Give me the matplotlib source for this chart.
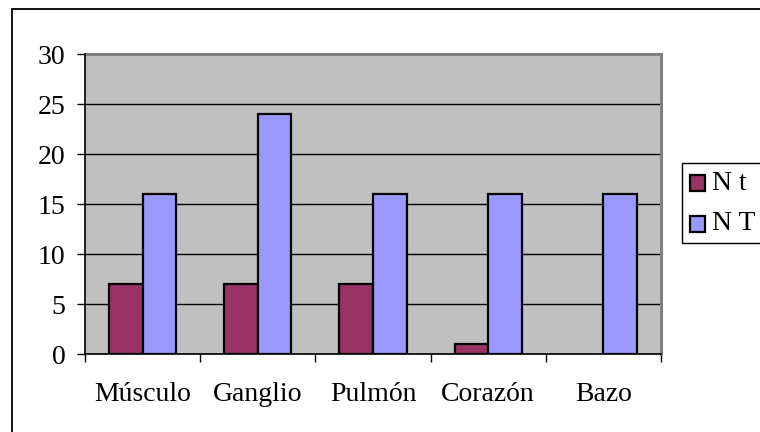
import matplotlib
matplotlib.use("Agg")
import matplotlib.pyplot as plt
from matplotlib.patches import Rectangle
import numpy as np

categories = ["Músculo", "Ganglio", "Pulmón", "Corazón", "Bazo"]
series_names = ["N t", "N T"]
n_t = [7, 7, 7, 1, 0]
n_T = [16, 24, 16, 16, 16]
y_ticks = [0, 5, 10, 15, 20, 25, 30]

colors = ["#993366", "#9999FF"]
W, H = 760, 432
fig = plt.figure(figsize=(W / 100, H / 100), dpi=100)
fig.patch.set_facecolor("white")
plt.rcParams["font.family"] = ["Liberation Serif", "DejaVu Serif"]
fs = 20

# outer chart-area frame
fig.patches.append(Rectangle((12 / W, -0.05), 1.2, 1 - 9 / H + 0.05,
                             transform=fig.transFigure, fill=False,
                             edgecolor="black", linewidth=1.3))

ax = fig.add_axes([85 / W, 1 - 354 / H, (661 - 85) / W, (354 - 54) / H])
ax.set_facecolor("#C0C0C0")

x = np.arange(len(categories))
bw = 0.292
for vals, off, c, name in [(n_t, -bw / 2, colors[0], series_names[0]),
                           (n_T, bw / 2, colors[1], series_names[1])]:
    bars = ax.bar(x + off, vals, width=bw, color=c, edgecolor="black",
                  linewidth=1.6, zorder=3, label=name)
    for b, v in zip(bars, vals):
        if v == 0:
            b.set_linewidth(0)

ax.set_xlim(-0.5, len(categories) - 0.5)
ax.set_ylim(0, 30)
ax.set_yticks(y_ticks)
ax.set_yticklabels([str(v) for v in y_ticks], fontsize=fs)
ax.yaxis.grid(True, color="black", linewidth=1.0, zorder=1)
ax.set_axisbelow(True)

# category labels centred, ticks at category boundaries
ax.set_xticks(x)
ax.set_xticklabels(categories, fontsize=fs)
ax.tick_params(axis="x", which="major", length=0, pad=20)
ax.set_xticks(np.arange(-0.5, len(categories)), minor=True)
ax.tick_params(axis="x", which="minor", length=6, width=1.0, direction="out")
ax.tick_params(axis="y", length=6, width=1.0, direction="out", pad=8)

for s in ["top", "right"]:
    ax.spines[s].set_color("#808080")
    ax.spines[s].set_linewidth(2.2)
for s in ["left", "bottom"]:
    ax.spines[s].set_color("black")
    ax.spines[s].set_linewidth(1.2)
ax.spines["left"].set_zorder(4)
ax.spines["bottom"].set_zorder(4)

# legend box
fig.patches.append(Rectangle((682 / W, 1 - 243 / H), 0.2, 80 / H,
                             transform=fig.transFigure, facecolor="white",
                             edgecolor="black", linewidth=1.0))
for i, (name, c) in enumerate(zip(series_names, colors)):
    top = 175 + i * 41
    fig.patches.append(Rectangle((690 / W, 1 - (top + 16) / H), 15 / W, 16 / H,
                                 transform=fig.transFigure, facecolor=c,
                                 edgecolor="black", linewidth=1.6))
    fig.text(712 / W, 1 - (top + 8) / H, name, fontsize=fs, va="center",
             ha="left")

fig.savefig("out.png", dpi=100)
